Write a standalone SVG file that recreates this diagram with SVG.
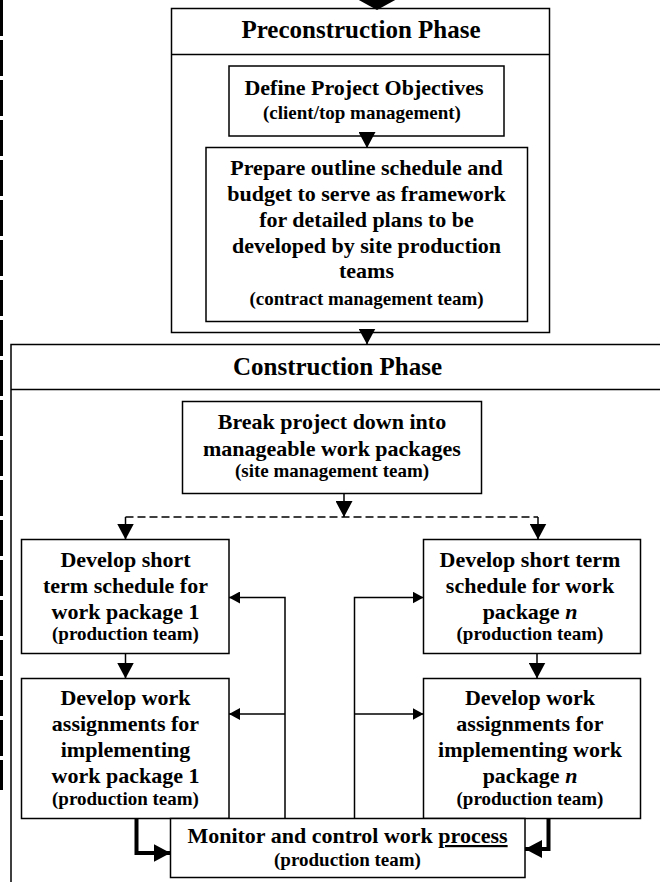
<svg xmlns="http://www.w3.org/2000/svg" width="660" height="882" viewBox="0 0 660 882">
<defs>
<style>
.box{fill:#fff;stroke:#000;stroke-width:1.5}
.ln{fill:none;stroke:#000;stroke-width:1.5}
.t{font-family:"Liberation Serif","Times New Roman",serif;font-weight:bold;font-size:22px;text-anchor:middle;fill:#000}
.s{font-size:19px}
.h{font-size:25px}
.c{fill:none;stroke:#000;stroke-width:1.5}
.thick{fill:none;stroke:#000;stroke-width:4}
.dash{stroke-dasharray:8 4}
</style>
<marker id="ah" markerUnits="userSpaceOnUse" markerWidth="16" markerHeight="17" refX="16" refY="8.5" orient="auto">
<path d="M0,0 L16,8.5 L0,17 z" fill="#000"/>
</marker>
<marker id="as" markerUnits="userSpaceOnUse" markerWidth="11" markerHeight="12" refX="11" refY="6" orient="auto">
<path d="M0,0 L11,6 L0,12 z" fill="#000"/>
</marker>
<marker id="at" markerUnits="userSpaceOnUse" markerWidth="17" markerHeight="18" refX="17" refY="9" orient="auto">
<path d="M0,0 L17,9 L0,18 z" fill="#000"/>
</marker>
</defs>
<rect width="660" height="882" fill="#fff"/>

<g id="page-edge">
<line x1="1.5" y1="0" x2="1.5" y2="790" stroke="#000" stroke-width="3" stroke-dasharray="36 4"/>
</g>

<g id="preconstruction-phase">
<rect class="box" x="171.5" y="8.5" width="378" height="324"/>
<line class="ln" x1="171.5" y1="54.5" x2="549.5" y2="54.5"/>
<text class="t h" x="361" y="37.5">Preconstruction Phase</text>
</g>

<g id="define-objectives">
<rect class="box" x="229" y="66" width="275" height="70"/>
<text class="t" x="364" y="94.5">Define Project Objectives</text>
<text class="t s" x="362" y="118.5">(client/top management)</text>
</g>

<g id="prepare-outline">
<rect class="box" x="206" y="147.5" width="321.5" height="174"/>
<text class="t" x="366.5" y="175">Prepare outline schedule and</text>
<text class="t" x="366.5" y="201">budget to serve as framework</text>
<text class="t" x="366.5" y="227">for detailed plans to be</text>
<text class="t" x="366.5" y="252.5">developed by site production</text>
<text class="t" x="366.5" y="277.5">teams</text>
<text class="t s" x="366.5" y="305">(contract management team)</text>
</g>

<g id="construction-phase">
<path class="ln" d="M11,884 V344.5 H662"/>
<line class="ln" x1="11" y1="389.5" x2="662" y2="389.5"/>
<text class="t h" x="337.5" y="375">Construction Phase</text>
</g>

<g id="break-down">
<rect class="box" x="182.5" y="401.5" width="299" height="92"/>
<text class="t" x="332" y="429">Break project down into</text>
<text class="t" x="332" y="455.5">manageable work packages</text>
<text class="t s" x="332" y="477">(site management team)</text>
</g>

<g id="schedule-1">
<rect class="box" x="21.5" y="539.5" width="207.5" height="114"/>
<text class="t" x="125.5" y="566.5">Develop short</text>
<text class="t" x="125.5" y="592.5">term schedule for</text>
<text class="t" x="125.5" y="618.5">work package 1</text>
<text class="t s" x="125.5" y="640">(production team)</text>
</g>

<g id="assign-1">
<rect class="box" x="21.5" y="678.5" width="207.5" height="140"/>
<text class="t" x="125.5" y="705">Develop work</text>
<text class="t" x="125.5" y="731">assignments for</text>
<text class="t" x="125.5" y="757">implementing</text>
<text class="t" x="125.5" y="783">work package 1</text>
<text class="t s" x="125.5" y="805">(production team)</text>
</g>

<g id="schedule-n">
<rect class="box" x="423.5" y="539.5" width="217" height="114"/>
<text class="t" x="530" y="566.5">Develop short term</text>
<text class="t" x="530" y="592.5">schedule for work</text>
<text class="t" x="530" y="618.5">package <tspan font-style="italic">n</tspan></text>
<text class="t s" x="530" y="640">(production team)</text>
</g>

<g id="assign-n">
<rect class="box" x="423.5" y="678.5" width="217" height="140"/>
<text class="t" x="530" y="705">Develop work</text>
<text class="t" x="530" y="731">assignments for</text>
<text class="t" x="530" y="757">implementing work</text>
<text class="t" x="530" y="783">package <tspan font-style="italic">n</tspan></text>
<text class="t s" x="530" y="805">(production team)</text>
</g>

<g id="monitor">
<rect class="box" x="170.5" y="818.5" width="354.5" height="59"/>
<text class="t" x="347.5" y="843">Monitor and control work <tspan text-decoration="underline">process</tspan></text>
<text class="t s" x="347.5" y="866">(production team)</text>
</g>

<g id="connectors">
<polygon points="357,-1 397,-1 377,10" fill="#000"/>
<line class="c" x1="367" y1="136" x2="367" y2="148" marker-end="url(#ah)"/>
<line class="c" x1="367" y1="332.5" x2="367" y2="344.5" marker-end="url(#ah)"/>
<line class="c" x1="344" y1="493.5" x2="344" y2="517" marker-end="url(#ah)"/>
<line class="c dash" x1="125.5" y1="517" x2="538" y2="517"/>
<line class="c" x1="125.5" y1="517" x2="125.5" y2="539.5" marker-end="url(#ah)"/>
<line class="c" x1="538" y1="517" x2="538" y2="539.5" marker-end="url(#ah)"/>
<line class="c" x1="125.5" y1="653.5" x2="125.5" y2="678.5" marker-end="url(#ah)"/>
<line class="c" x1="537" y1="653.5" x2="537" y2="678.5" marker-end="url(#ah)"/>
<path class="c" d="M285,818.5 V597.5 H229" marker-end="url(#as)"/>
<line class="c" x1="285" y1="714" x2="229" y2="714" marker-end="url(#as)"/>
<path class="c" d="M354.5,818.5 V597.5 H423.5" marker-end="url(#as)"/>
<line class="c" x1="354.5" y1="714" x2="423.5" y2="714" marker-end="url(#as)"/>
<path class="thick" d="M136.5,818.5 V853 H170.5" marker-end="url(#at)"/>
<path class="thick" d="M548.5,818.5 V849 H525" marker-end="url(#at)"/>
</g>
</svg>
